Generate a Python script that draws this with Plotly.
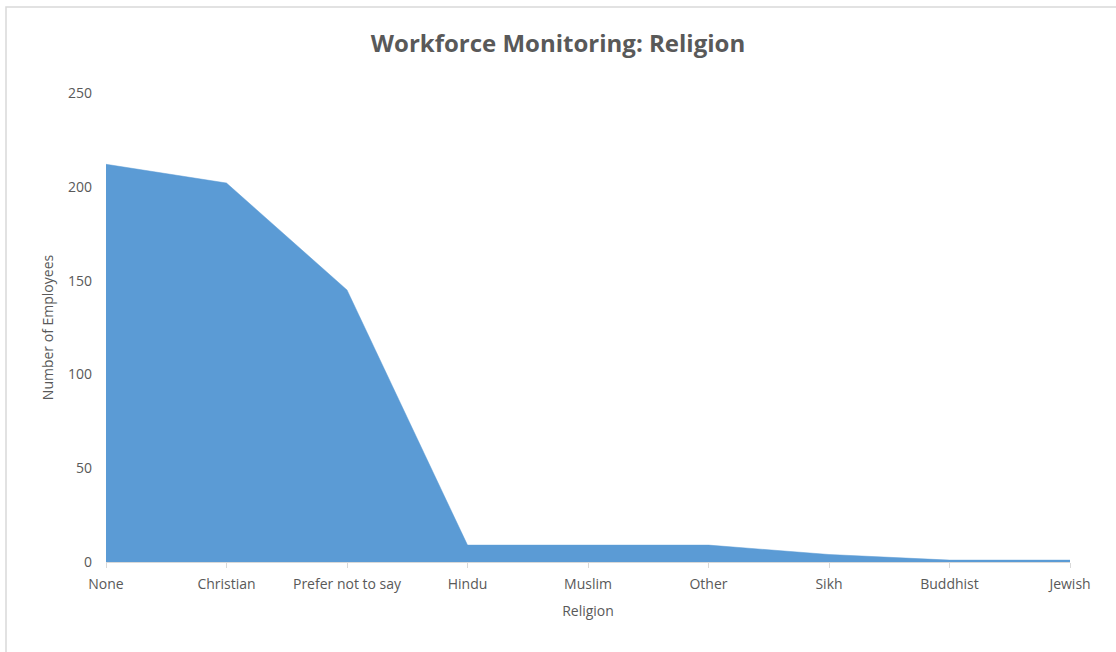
import plotly.graph_objects as go

categories = ["None", "Christian", "Prefer not to say", "Hindu", "Muslim", "Other", "Sikh", "Buddhist", "Jewish"]
employees = [212, 202, 145, 9, 9, 9, 4, 1, 1]
y_ticks = [0, 50, 100, 150, 200, 250]

font_family = "Open Sans, Liberation Sans, sans-serif"
grey = "#595959"

fig = go.Figure()
fig.add_trace(go.Scatter(
    x=categories, y=employees, mode="lines", fill="tozeroy",
    fillcolor="#5B9BD5", line=dict(color="#5B9BD5", width=0.5),
    hoverinfo="x+y", showlegend=False,
))

L, R, T, B = 106, 46, 93, 90
W, H = 1116, 652
pw, ph = W - L - R, H - T - B

fig.update_layout(
    width=W, height=H,
    margin=dict(l=L, r=R, t=T, b=B),
    paper_bgcolor="white", plot_bgcolor="white",
    font=dict(family=font_family, color=grey, size=14),
    title=dict(text="<b>Workforce Monitoring: Religion</b>", x=0.5, xref="container",
               y=1 - 44 / H, yref="container", yanchor="middle",
               font=dict(size=24, color=grey, family=font_family)),
    xaxis=dict(
        type="category", range=[0, len(categories) - 1],
        showgrid=False, showline=True, linecolor="#d9d9d9", linewidth=1,
        ticks="outside", ticklen=5, tickcolor="#d9d9d9",
        ticklabelstandoff=4,
        tickfont=dict(size=14, color=grey),
        title=dict(text="Religion", font=dict(size=14, color=grey), standoff=14),
        zeroline=False,
    ),
    yaxis=dict(
        range=[0, 250], tickvals=y_ticks, showgrid=False, showline=False,
        zeroline=False, ticks="", ticklabelstandoff=13,
        tickfont=dict(size=14, color=grey),
        title=dict(text="Number of Employees", font=dict(size=14, color=grey), standoff=11),
    ),
    shapes=[dict(
        type="rect", xref="paper", yref="paper",
        x0=(6 - L) / pw, x1=(W + 20 - L) / pw,
        y0=-(B + 20) / ph, y1=(H - 4 - T) / ph,
        line=dict(color="#d9d9d9", width=1.5), fillcolor="rgba(0,0,0,0)", layer="below",
    )],
)

fig.write_html("out.html", config={"displayModeBar": False},
               post_script="document.body.style.margin='0';document.body.style.overflow='hidden';")
